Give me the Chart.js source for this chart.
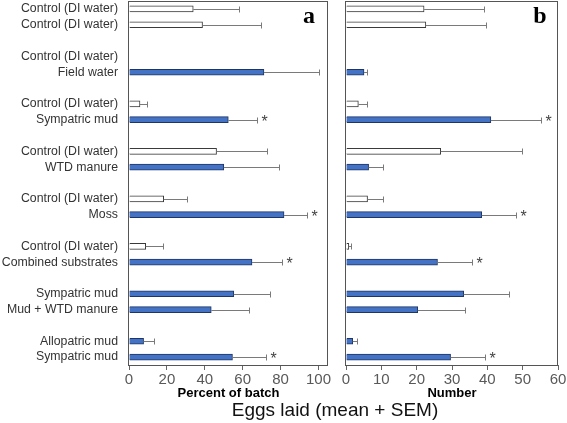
<!DOCTYPE html>
<html>
<head>
<meta charset="utf-8">
<script src="https://cdn.jsdelivr.net/npm/chart.js@4/dist/chart.umd.min.js"></script>
<style>
  html, body { margin: 0; padding: 0; background: #fff; }
  #wrap { position: relative; width: 567px; height: 423px; overflow: hidden; }
  #c1 { position: absolute; left: 0; top: 0; }
  #c2 { position: absolute; left: 335px; top: 0; }
  #xtitle { position: absolute; top: 399px; left: 335px; transform: translateX(-50%);
            font: 19px "Liberation Sans", Arial, sans-serif; color: #111; line-height: 22px; white-space: nowrap; }
</style>
</head>
<body>
<div id="wrap">
  <canvas id="c1" width="335" height="423"></canvas>
  <canvas id="c2" width="232" height="423"></canvas>
  <div id="xtitle">Eggs laid (mean + SEM)</div>
</div>
<script>
// Row labels (empty strings are the gaps between groups)
const rowLabels = [
  "Control (DI water)", "Control (DI water)", "",
  "Control (DI water)", "Field water", "",
  "Control (DI water)", "Sympatric mud", "",
  "Control (DI water)", "WTD manure", "",
  "Control (DI water)", "Moss", "",
  "Control (DI water)", "Combined substrates", "",
  "Sympatric mud", "Mud + WTD manure", "",
  "Allopatric mud", "Sympatric mud"
];
// 'c' = control (white bar), 't' = treatment (blue bar)
const barKind = ["c","c","", "c","t","", "c","t","", "c","t","", "c","t","", "c","t","", "t","t","", "t","t"];

// Panel a: percent of batch
const pctMean = [33.9, 38.8, null, null, 71.2, null, 5.8, 52.4, null, 46.2, 50.0, null, 18.3, 81.8, null, 8.8, 64.9, null, 55.3, 43.4, null, 7.7, 54.6];
const pctSem  = [24.1, 31.1, null, null, 29.0, null, 3.9, 15.3, null, 26.7, 28.9, null, 12.1, 12.0, null, 8.9, 15.8, null, 19.3, 19.9, null, 5.3, 17.6];
// Panel b: number of eggs
const numMean = [22.1, 22.6, null, null, 5.1, null, 3.5, 41.0, null, 26.8, 6.4, null, 6.1, 38.4, null, 0.8, 25.9, null, 33.3, 20.3, null, 1.9, 29.6];
const numSem  = [17.0, 17.1, null, null, 0.8, null, 2.4, 14.1, null, 22.9, 4.0, null, 4.3, 9.6, null, 0.5, 9.7, null, 12.8, 13.3, null, 1.1, 9.7];
// Significance markers
const sigA = [0,0,0, 0,0,0, 0,1,0, 0,0,0, 0,1,0, 0,1,0, 0,0,0, 0,1];
const sigB = [0,0,0, 0,0,0, 0,1,0, 0,0,0, 0,1,0, 0,1,0, 0,0,0, 0,1];

const pctTicks = [0, 20, 40, 60, 80, 100];
const numTicks = [0, 10, 20, 30, 40, 50, 60];

const BLUE = "#4472C4", BLUE_EDGE = "#1F3564", WHITE_EDGE = "#3a3a3a";
const fillColors = barKind.map(k => k === "t" ? BLUE : "#ffffff");
const edgeColors = barKind.map(k => k === "t" ? BLUE_EDGE : WHITE_EDGE);

function errorPlugin(sem, sig, letter, letterOffset) {
  return {
    id: "errs",
    afterDatasetsDraw(chart) {
      const ctx = chart.ctx;
      const xs = chart.scales.x, ys = chart.scales.y;
      const data = chart.data.datasets[0].data;
      ctx.save();
      ctx.strokeStyle = "#7a7a7a";
      ctx.lineWidth = 1;
      data.forEach((v, i) => {
        if (v === null || sem[i] === null) return;
        const y = Math.round(ys.getPixelForValue(i)) + 0.5;
        const x1 = xs.getPixelForValue(v);
        const x2 = Math.round(xs.getPixelForValue(v + sem[i])) + 0.5;
        ctx.beginPath();
        ctx.moveTo(x1, y); ctx.lineTo(x2, y);
        ctx.moveTo(x2, y - 3); ctx.lineTo(x2, y + 3);
        ctx.stroke();
        if (sig[i]) {
          ctx.fillStyle = "#444";
          ctx.font = "16px 'Liberation Sans', Arial, sans-serif";
          ctx.textAlign = "left";
          ctx.textBaseline = "middle";
          ctx.fillText("*", x2 + 4, y + 2);
        }
      });
      ctx.restore();
    },
    afterDraw(chart) {
      const ctx = chart.ctx, a = chart.chartArea;
      ctx.save();
      ctx.strokeStyle = "#555";
      ctx.lineWidth = 1;
      ctx.strokeRect(Math.round(a.left) - 0.5, Math.round(a.top) + 0.5, Math.round(a.right - a.left), Math.round(a.bottom - a.top));
      ctx.fillStyle = "#000";
      ctx.font = "bold 24px 'Liberation Serif', 'Times New Roman', serif";
      ctx.textAlign = "center";
      ctx.textBaseline = "middle";
      ctx.fillText(letter, a.right - letterOffset, 17);
      ctx.restore();
    }
  };
}

function zeroPad(scale) {
  scale.paddingLeft = 0; scale.paddingRight = 0; scale.paddingTop = 0; scale.paddingBottom = 0;
}

function makeChart(id, mean, sem, sig, max, step, tickList, title, letter, letterOffset, showY, padding) {
  return new Chart(document.getElementById(id), {
    type: "bar",
    data: {
      labels: rowLabels,
      datasets: [{
        data: mean,
        backgroundColor: fillColors,
        borderColor: edgeColors,
        borderWidth: 1,
        barThickness: 6
      }]
    },
    options: {
      indexAxis: "y",
      responsive: false,
      animation: false,
      devicePixelRatio: 1,
      layout: { padding: padding },
      plugins: { legend: { display: false }, tooltip: { enabled: false } },
      scales: {
        y: {
          type: "category",
          display: showY,
          offset: true,
          grid: { display: false, drawTicks: false },
          border: { display: false },
          ticks: {
            autoSkip: false,
            padding: 11,
            color: "#333",
            font: { family: "'Liberation Sans', Arial, sans-serif", size: 12.3 }
          },
          afterFit(scale) { scale.width = showY ? 129 : 0; zeroPad(scale); }
        },
        x: {
          type: "linear",
          min: 0,
          max: max,
          afterBuildTicks(scale) { scale.ticks = tickList.map(v => ({ value: v })); },
          ticks: {
            stepSize: step,
            includeBounds: false,
            maxRotation: 0,
            minRotation: 0,
            padding: 1,
            color: "#595959",
            font: { family: "'Liberation Sans', Arial, sans-serif", size: 15 }
          },
          grid: { display: true, drawOnChartArea: false, drawTicks: true, tickLength: 5, color: "#666" },
          border: { display: false },
          title: {
            display: true,
            text: title,
            color: "#000",
            font: { family: "'Liberation Sans', Arial, sans-serif", size: 13, weight: "bold", lineHeight: 1.2 },
            padding: { top: 0, bottom: 22 }
          },
          afterFit(scale) { scale.height = 58; zeroPad(scale); }
        }
      }
    },
    plugins: [errorPlugin(sem, sig, letter, letterOffset)]
  });
}

makeChart("c1", pctMean, pctSem, sigA, 105, 20, pctTicks, "Percent of batch", "a", 19, true,
  { left: 0, right: 7, top: 1, bottom: 0 });
makeChart("c2", numMean, numSem, sigB, 60, 10, numTicks, "Number", "b", 18, false,
  { left: 11, right: 9, top: 1, bottom: 0 });
</script>
</body>
</html>
